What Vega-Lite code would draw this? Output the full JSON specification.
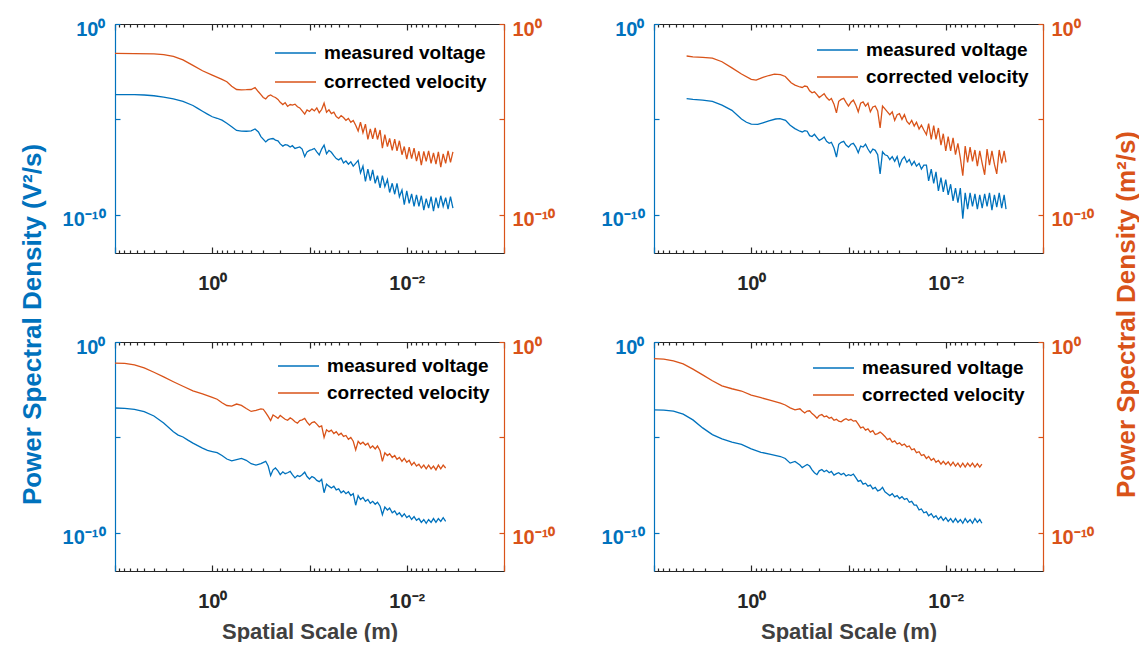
{
"$schema":"https://vega.github.io/schema/vega-lite/v6.json",
"background":"white",
"padding":{"left":19,"top":19,"right":0,"bottom":0},
"config":{"font":"Liberation Sans","view":{"stroke":null},"axis":{"domainWidth":1.2,"tickWidth":1.2,"labelFont":"Liberation Sans","titleFont":"Liberation Sans"},"legend":{"labelFont":"Liberation Sans","labelLimit":0}},
"datasets":{
"tl_v":[{"x":10,"y":2.0e-4},{"x":7.94,"y":2.0e-4},{"x":6.31,"y":2.0e-4},{"x":5.01,"y":1.9e-4},{"x":3.98,"y":1.74e-4},{"x":3.16,"y":1.48e-4},{"x":2.51,"y":1.2e-4},{"x":2.0,"y":8.9e-5},{"x":1.58,"y":5.37e-5},{"x":1.41,"y":3.8e-5},{"x":1.26,"y":2.69e-5},{"x":1.12,"y":1.9e-5},{"x":1.0,"y":1.38e-5},{"x":0.891,"y":1.15e-5},{"x":0.794,"y":9.1e-6},{"x":0.708,"y":6.31e-6},{"x":0.631,"y":4.17e-6},{"x":0.562,"y":2.63e-6},{"x":0.501,"y":2.45e-6},{"x":0.447,"y":2.4e-6},{"x":0.398,"y":2.51e-6},{"x":0.363,"y":3.16e-6},{"x":0.335,"y":2.19e-6},{"x":0.316,"y":1.26e-6},{"x":0.282,"y":6.6e-7},{"x":0.266,"y":8.7e-7},{"x":0.251,"y":9.5e-7},{"x":0.237,"y":1.0e-6},{"x":0.224,"y":8.3e-7},{"x":0.211,"y":7.6e-7},{"x":0.2,"y":5.2e-7},{"x":0.188,"y":4.0e-7},{"x":0.178,"y":4.8e-7},{"x":0.168,"y":4.5e-7},{"x":0.158,"y":3.55e-7},{"x":0.15,"y":4.2e-7},{"x":0.141,"y":3.0e-7},{"x":0.133,"y":3.3e-7},{"x":0.126,"y":3.6e-7},{"x":0.119,"y":2.8e-7},{"x":0.112,"y":1.12e-7},{"x":0.106,"y":2.0e-7},{"x":0.1,"y":2.4e-7},{"x":0.0944,"y":2.6e-7},{"x":0.0891,"y":3.0e-7},{"x":0.0841,"y":2.0e-7},{"x":0.0794,"y":1.38e-7},{"x":0.075,"y":2.8e-7},{"x":0.0708,"y":4.5e-7},{"x":0.0668,"y":1.58e-7},{"x":0.0631,"y":2.4e-7},{"x":0.0596,"y":1.9e-7},{"x":0.0562,"y":1.26e-7},{"x":0.0531,"y":8.9e-8},{"x":0.0501,"y":7.6e-8},{"x":0.0473,"y":9.5e-8},{"x":0.0447,"y":5.2e-8},{"x":0.0422,"y":6.6e-8},{"x":0.0398,"y":4.5e-8},{"x":0.0376,"y":6.0e-8},{"x":0.0355,"y":3.55e-8},{"x":0.0335,"y":5.0e-8},{"x":0.0316,"y":7.1e-8},{"x":0.0299,"y":1.58e-8},{"x":0.0282,"y":3.55e-8},{"x":0.0266,"y":5.6e-9},{"x":0.0251,"y":2.5e-8},{"x":0.0237,"y":6.3e-9},{"x":0.0224,"y":2.24e-8},{"x":0.0211,"y":4.5e-9},{"x":0.02,"y":1.12e-8},{"x":0.0188,"y":2.6e-9},{"x":0.0178,"y":1.12e-8},{"x":0.0168,"y":3.0e-9},{"x":0.0158,"y":7.1e-9},{"x":0.015,"y":1.48e-9},{"x":0.0141,"y":4.5e-9},{"x":0.0133,"y":1.2e-9},{"x":0.0126,"y":4.5e-9},{"x":0.0119,"y":8.9e-10},{"x":0.0112,"y":2.0e-9},{"x":0.0106,"y":3.4e-10},{"x":0.01,"y":1.78e-9},{"x":0.00944,"y":4.0e-10},{"x":0.00891,"y":1.26e-9},{"x":0.00841,"y":2.8e-10},{"x":0.00794,"y":1.12e-9},{"x":0.0075,"y":2.8e-10},{"x":0.00708,"y":1.0e-9},{"x":0.00668,"y":1.78e-10},{"x":0.00631,"y":7.1e-10},{"x":0.00596,"y":2.24e-10},{"x":0.00562,"y":8.9e-10},{"x":0.00531,"y":1.58e-10},{"x":0.00501,"y":7.9e-10},{"x":0.00473,"y":2.24e-10},{"x":0.00447,"y":1.0e-9},{"x":0.00422,"y":2.8e-10},{"x":0.00398,"y":7.9e-10},{"x":0.00376,"y":2.0e-10},{"x":0.00355,"y":8.9e-10},{"x":0.00335,"y":2.24e-10}],
"tl_c":[{"x":10,"y":2.9e-2},{"x":6.31,"y":2.8e-2},{"x":3.98,"y":2.75e-2},{"x":3.16,"y":2.5e-2},{"x":2.51,"y":2.0e-2},{"x":2.0,"y":1.32e-2},{"x":1.58,"y":6.8e-3},{"x":1.26,"y":3.55e-3},{"x":1.0,"y":2.1e-3},{"x":0.794,"y":1.26e-3},{"x":0.708,"y":9.5e-4},{"x":0.631,"y":5.5e-4},{"x":0.562,"y":3.7e-4},{"x":0.501,"y":3.55e-4},{"x":0.447,"y":3.6e-4},{"x":0.398,"y":3.7e-4},{"x":0.363,"y":4.7e-4},{"x":0.335,"y":2.8e-4},{"x":0.316,"y":2.0e-4},{"x":0.299,"y":1.41e-4},{"x":0.282,"y":1.2e-4},{"x":0.266,"y":1.66e-4},{"x":0.251,"y":1.9e-4},{"x":0.237,"y":1.58e-4},{"x":0.224,"y":1.41e-4},{"x":0.211,"y":1.12e-4},{"x":0.2,"y":7.9e-5},{"x":0.188,"y":6.0e-5},{"x":0.178,"y":7.6e-5},{"x":0.168,"y":4.8e-5},{"x":0.158,"y":6.0e-5},{"x":0.15,"y":5.6e-5},{"x":0.141,"y":6.3e-5},{"x":0.133,"y":4.6e-5},{"x":0.126,"y":4.0e-5},{"x":0.119,"y":2.8e-5},{"x":0.112,"y":1.9e-5},{"x":0.106,"y":3.16e-5},{"x":0.1,"y":2.6e-5},{"x":0.0944,"y":3.55e-5},{"x":0.0891,"y":2.8e-5},{"x":0.0841,"y":4.0e-5},{"x":0.0794,"y":2.24e-5},{"x":0.075,"y":3.3e-5},{"x":0.0708,"y":7.1e-5},{"x":0.0668,"y":2.4e-5},{"x":0.0631,"y":3.16e-5},{"x":0.0596,"y":2.0e-5},{"x":0.0562,"y":2.4e-5},{"x":0.0531,"y":1.41e-5},{"x":0.0501,"y":1.12e-5},{"x":0.0473,"y":1.58e-5},{"x":0.0447,"y":1.26e-5},{"x":0.0422,"y":8.9e-6},{"x":0.0398,"y":1.12e-5},{"x":0.0376,"y":7.1e-6},{"x":0.0355,"y":8.9e-6},{"x":0.0335,"y":5.0e-6},{"x":0.0316,"y":2.5e-6},{"x":0.0299,"y":7.1e-6},{"x":0.0282,"y":2.0e-6},{"x":0.0266,"y":5.6e-6},{"x":0.0251,"y":8.9e-7},{"x":0.0237,"y":3.16e-6},{"x":0.0224,"y":9.5e-7},{"x":0.0211,"y":3.55e-6},{"x":0.02,"y":8.9e-7},{"x":0.0188,"y":2.8e-6},{"x":0.0178,"y":3.16e-7},{"x":0.0168,"y":1.58e-6},{"x":0.0158,"y":3.8e-7},{"x":0.015,"y":1.0e-6},{"x":0.0141,"y":2.4e-7},{"x":0.0133,"y":9.3e-7},{"x":0.0126,"y":2.24e-7},{"x":0.0119,"y":7.6e-7},{"x":0.0112,"y":1.41e-7},{"x":0.0106,"y":3.8e-7},{"x":0.01,"y":8.3e-8},{"x":0.00944,"y":3.55e-7},{"x":0.00891,"y":8.9e-8},{"x":0.00841,"y":3.16e-7},{"x":0.00794,"y":6.6e-8},{"x":0.0075,"y":2.14e-7},{"x":0.00708,"y":4.0e-8},{"x":0.00668,"y":2.14e-7},{"x":0.00631,"y":6.3e-8},{"x":0.00596,"y":2.24e-7},{"x":0.00562,"y":5.0e-8},{"x":0.00531,"y":1.78e-7},{"x":0.00501,"y":4.5e-8},{"x":0.00473,"y":2.0e-7},{"x":0.00447,"y":3.16e-8},{"x":0.00422,"y":1.58e-7},{"x":0.00398,"y":5.0e-8},{"x":0.00376,"y":2.24e-7},{"x":0.00355,"y":5.6e-8},{"x":0.00335,"y":2.0e-7}],
"tr_v":[{"x":4.62,"y":1.23e-4},{"x":3.98,"y":1.12e-4},{"x":3.16,"y":1.02e-4},{"x":2.51,"y":8.9e-5},{"x":2.0,"y":5.6e-5},{"x":1.58,"y":3.0e-5},{"x":1.26,"y":1.05e-5},{"x":1.12,"y":7.1e-6},{"x":1.0,"y":5.6e-6},{"x":0.857,"y":5.5e-6},{"x":0.759,"y":6.6e-6},{"x":0.659,"y":8.3e-6},{"x":0.562,"y":1.05e-5},{"x":0.507,"y":1.1e-5},{"x":0.444,"y":8.9e-6},{"x":0.398,"y":5.0e-6},{"x":0.356,"y":3.3e-6},{"x":0.316,"y":2.4e-6},{"x":0.299,"y":2.2e-6},{"x":0.282,"y":2.6e-6},{"x":0.266,"y":2.4e-6},{"x":0.251,"y":1.41e-6},{"x":0.237,"y":1.26e-6},{"x":0.224,"y":1.66e-6},{"x":0.211,"y":1.12e-6},{"x":0.2,"y":7.9e-7},{"x":0.188,"y":9.5e-7},{"x":0.178,"y":1.2e-6},{"x":0.168,"y":7.1e-7},{"x":0.158,"y":5.6e-7},{"x":0.15,"y":6.3e-7},{"x":0.141,"y":3.16e-7},{"x":0.133,"y":1.07e-7},{"x":0.126,"y":5.0e-7},{"x":0.119,"y":6.3e-7},{"x":0.112,"y":7.1e-7},{"x":0.106,"y":4.5e-7},{"x":0.1,"y":3.55e-7},{"x":0.0944,"y":5.0e-7},{"x":0.0891,"y":5.6e-7},{"x":0.0841,"y":3.55e-7},{"x":0.0794,"y":1.78e-7},{"x":0.075,"y":4.0e-7},{"x":0.0708,"y":3.55e-7},{"x":0.0668,"y":5.0e-7},{"x":0.0631,"y":2.8e-7},{"x":0.0596,"y":1.78e-7},{"x":0.0562,"y":2.8e-7},{"x":0.0531,"y":2.4e-7},{"x":0.0501,"y":1.41e-7},{"x":0.0473,"y":1.41e-8},{"x":0.0447,"y":2.0e-7},{"x":0.0422,"y":1.41e-7},{"x":0.0398,"y":1.26e-7},{"x":0.0376,"y":7.9e-8},{"x":0.0355,"y":1.12e-7},{"x":0.0335,"y":6.3e-8},{"x":0.0316,"y":1.12e-7},{"x":0.0299,"y":3.55e-8},{"x":0.0282,"y":7.9e-8},{"x":0.0266,"y":1.12e-7},{"x":0.0251,"y":5.6e-8},{"x":0.0237,"y":7.9e-8},{"x":0.0224,"y":4.0e-8},{"x":0.0211,"y":6.3e-8},{"x":0.02,"y":3.55e-8},{"x":0.0188,"y":5.0e-8},{"x":0.0178,"y":2.5e-8},{"x":0.0168,"y":4.0e-8},{"x":0.0158,"y":4.0e-8},{"x":0.015,"y":6.0e-9},{"x":0.0141,"y":2.5e-8},{"x":0.0133,"y":4.5e-9},{"x":0.0126,"y":1.78e-8},{"x":0.0119,"y":1.78e-9},{"x":0.0112,"y":8.9e-9},{"x":0.0106,"y":1.58e-9},{"x":0.01,"y":7.1e-9},{"x":0.00944,"y":1.12e-9},{"x":0.00891,"y":4.0e-9},{"x":0.00841,"y":5.4e-10},{"x":0.00794,"y":2.5e-9},{"x":0.0075,"y":4.3e-10},{"x":0.00708,"y":2.5e-9},{"x":0.00668,"y":6.3e-11},{"x":0.00631,"y":1.41e-9},{"x":0.00596,"y":2.0e-10},{"x":0.00562,"y":1.41e-9},{"x":0.00531,"y":2.8e-10},{"x":0.00501,"y":1.26e-9},{"x":0.00473,"y":2.0e-10},{"x":0.00447,"y":1.12e-9},{"x":0.00422,"y":2.24e-10},{"x":0.00398,"y":1.26e-9},{"x":0.00376,"y":2.8e-10},{"x":0.00355,"y":1.41e-9},{"x":0.00335,"y":1.78e-10},{"x":0.00316,"y":1.12e-9},{"x":0.00299,"y":2.5e-10},{"x":0.00282,"y":1.41e-9},{"x":0.00266,"y":2.24e-10},{"x":0.00251,"y":1.12e-9},{"x":0.0024,"y":2.0e-10}],
"tr_c":[{"x":4.62,"y":2.1e-2},{"x":3.98,"y":1.9e-2},{"x":3.16,"y":1.78e-2},{"x":2.51,"y":1.62e-2},{"x":2.0,"y":1.05e-2},{"x":1.58,"y":5.0e-3},{"x":1.26,"y":2.4e-3},{"x":1.0,"y":1.26e-3},{"x":0.891,"y":1.15e-3},{"x":0.759,"y":1.58e-3},{"x":0.659,"y":2.0e-3},{"x":0.578,"y":2.34e-3},{"x":0.501,"y":2.24e-3},{"x":0.447,"y":1.78e-3},{"x":0.389,"y":8.3e-4},{"x":0.355,"y":6.3e-4},{"x":0.316,"y":5.0e-4},{"x":0.299,"y":4.7e-4},{"x":0.282,"y":5.6e-4},{"x":0.266,"y":5.2e-4},{"x":0.251,"y":3.16e-4},{"x":0.237,"y":2.5e-4},{"x":0.224,"y":2.8e-4},{"x":0.211,"y":2.0e-4},{"x":0.2,"y":1.41e-4},{"x":0.188,"y":1.78e-4},{"x":0.178,"y":2.24e-4},{"x":0.168,"y":1.41e-4},{"x":0.158,"y":1.02e-4},{"x":0.15,"y":1.26e-4},{"x":0.141,"y":6.3e-5},{"x":0.133,"y":2.2e-5},{"x":0.126,"y":8.9e-5},{"x":0.119,"y":1.12e-4},{"x":0.112,"y":1.26e-4},{"x":0.106,"y":7.9e-5},{"x":0.1,"y":5.0e-5},{"x":0.0944,"y":7.9e-5},{"x":0.0891,"y":1.02e-4},{"x":0.0841,"y":5.6e-5},{"x":0.0794,"y":2.5e-5},{"x":0.075,"y":7.1e-5},{"x":0.0708,"y":8.3e-5},{"x":0.0668,"y":5.0e-5},{"x":0.0631,"y":7.1e-5},{"x":0.0596,"y":2.5e-5},{"x":0.0562,"y":4.5e-5},{"x":0.0531,"y":5.0e-5},{"x":0.0501,"y":2.8e-5},{"x":0.0473,"y":3.55e-6},{"x":0.0447,"y":5.0e-5},{"x":0.0422,"y":3.55e-5},{"x":0.0398,"y":2.5e-5},{"x":0.0376,"y":1.78e-5},{"x":0.0355,"y":2.5e-5},{"x":0.0335,"y":8.9e-6},{"x":0.0316,"y":1.78e-5},{"x":0.0299,"y":2.0e-5},{"x":0.0282,"y":1.0e-5},{"x":0.0266,"y":1.78e-5},{"x":0.0251,"y":7.9e-6},{"x":0.0237,"y":5.6e-6},{"x":0.0224,"y":8.9e-6},{"x":0.0211,"y":4.5e-6},{"x":0.02,"y":7.1e-6},{"x":0.0188,"y":3.16e-6},{"x":0.0178,"y":5.0e-6},{"x":0.0168,"y":2.8e-6},{"x":0.0158,"y":1.58e-6},{"x":0.015,"y":6.0e-6},{"x":0.0141,"y":8.9e-7},{"x":0.0133,"y":4.7e-6},{"x":0.0126,"y":8.9e-7},{"x":0.0119,"y":3.55e-6},{"x":0.0112,"y":4.5e-7},{"x":0.0106,"y":1.78e-6},{"x":0.01,"y":2.24e-7},{"x":0.00944,"y":1.26e-6},{"x":0.00891,"y":2.24e-7},{"x":0.00841,"y":1.07e-6},{"x":0.00794,"y":1.41e-7},{"x":0.0075,"y":5.5e-7},{"x":0.00708,"y":9.5e-8},{"x":0.00668,"y":1.12e-8},{"x":0.00631,"y":4.0e-7},{"x":0.00596,"y":5.6e-8},{"x":0.00562,"y":3.55e-7},{"x":0.00531,"y":6.3e-8},{"x":0.00501,"y":2.5e-7},{"x":0.00473,"y":3.55e-8},{"x":0.00447,"y":2.24e-7},{"x":0.00422,"y":5.0e-8},{"x":0.00398,"y":1.26e-8},{"x":0.00376,"y":2.8e-7},{"x":0.00355,"y":4.0e-8},{"x":0.00335,"y":2.24e-7},{"x":0.00316,"y":4.5e-8},{"x":0.00299,"y":1.41e-8},{"x":0.00282,"y":2.5e-7},{"x":0.00266,"y":5.0e-8},{"x":0.00251,"y":2.24e-7},{"x":0.0024,"y":5.6e-8}],
"bl_v":[{"x":10,"y":3.47e-4},{"x":7.94,"y":3.3e-4},{"x":6.31,"y":2.95e-4},{"x":5.01,"y":2.24e-4},{"x":3.98,"y":1.32e-4},{"x":3.16,"y":5.75e-5},{"x":2.51,"y":2.0e-5},{"x":2.24,"y":1.32e-5},{"x":2.0,"y":1.05e-5},{"x":1.78,"y":7.2e-6},{"x":1.58,"y":5.0e-6},{"x":1.26,"y":2.75e-6},{"x":1.12,"y":2.1e-6},{"x":1.0,"y":1.82e-6},{"x":0.891,"y":1.58e-6},{"x":0.794,"y":1.12e-6},{"x":0.708,"y":7.4e-7},{"x":0.631,"y":5.9e-7},{"x":0.562,"y":6.8e-7},{"x":0.501,"y":7.9e-7},{"x":0.447,"y":6.3e-7},{"x":0.398,"y":4.2e-7},{"x":0.355,"y":3.55e-7},{"x":0.316,"y":4.2e-7},{"x":0.282,"y":5.6e-7},{"x":0.266,"y":3.16e-7},{"x":0.251,"y":1.0e-7},{"x":0.237,"y":2.0e-7},{"x":0.224,"y":2.5e-7},{"x":0.211,"y":1.78e-7},{"x":0.2,"y":1.12e-7},{"x":0.188,"y":1.58e-7},{"x":0.178,"y":1.26e-7},{"x":0.168,"y":1.41e-7},{"x":0.158,"y":1.66e-7},{"x":0.15,"y":1.12e-7},{"x":0.141,"y":7.6e-8},{"x":0.133,"y":1.0e-7},{"x":0.126,"y":8.9e-8},{"x":0.119,"y":1.12e-7},{"x":0.112,"y":1.51e-7},{"x":0.106,"y":8.9e-8},{"x":0.1,"y":6.6e-8},{"x":0.0944,"y":8.9e-8},{"x":0.0891,"y":7.6e-8},{"x":0.0841,"y":5.6e-8},{"x":0.0794,"y":4.8e-8},{"x":0.075,"y":6.3e-8},{"x":0.0708,"y":1.26e-8},{"x":0.0668,"y":3.55e-8},{"x":0.0631,"y":2.8e-8},{"x":0.0596,"y":2.24e-8},{"x":0.0562,"y":2.8e-8},{"x":0.0531,"y":1.78e-8},{"x":0.0501,"y":2.0e-8},{"x":0.0473,"y":1.26e-8},{"x":0.0447,"y":1.58e-8},{"x":0.0422,"y":1.12e-8},{"x":0.0398,"y":1.41e-8},{"x":0.0376,"y":8.9e-9},{"x":0.0355,"y":1.12e-8},{"x":0.0335,"y":2.8e-9},{"x":0.0316,"y":8.9e-9},{"x":0.0299,"y":5.6e-9},{"x":0.0282,"y":7.1e-9},{"x":0.0266,"y":4.5e-9},{"x":0.0251,"y":5.6e-9},{"x":0.0237,"y":3.55e-9},{"x":0.0224,"y":4.5e-9},{"x":0.0211,"y":3.16e-9},{"x":0.02,"y":4.0e-9},{"x":0.0188,"y":2.5e-9},{"x":0.0178,"y":8.9e-10},{"x":0.0168,"y":2.24e-9},{"x":0.0158,"y":1.58e-9},{"x":0.015,"y":2.0e-9},{"x":0.0141,"y":1.12e-9},{"x":0.0133,"y":1.41e-9},{"x":0.0126,"y":8.9e-10},{"x":0.0119,"y":1.12e-9},{"x":0.0112,"y":7.1e-10},{"x":0.0106,"y":1.0e-9},{"x":0.01,"y":6.3e-10},{"x":0.00944,"y":7.9e-10},{"x":0.00891,"y":5.0e-10},{"x":0.00841,"y":7.1e-10},{"x":0.00794,"y":4.5e-10},{"x":0.0075,"y":5.6e-10},{"x":0.00708,"y":3.55e-10},{"x":0.00668,"y":5.0e-10},{"x":0.00631,"y":3.16e-10},{"x":0.00596,"y":5.0e-10},{"x":0.00562,"y":3.55e-10},{"x":0.00531,"y":5.6e-10},{"x":0.00501,"y":3.55e-10},{"x":0.00473,"y":5.6e-10},{"x":0.00447,"y":4.0e-10},{"x":0.00422,"y":6.3e-10},{"x":0.00398,"y":4.0e-10}],
"bl_c":[{"x":10,"y":7.9e-2},{"x":7.94,"y":7.6e-2},{"x":6.31,"y":6.3e-2},{"x":5.01,"y":4.4e-2},{"x":3.98,"y":2.6e-2},{"x":3.16,"y":1.48e-2},{"x":2.51,"y":8.3e-3},{"x":2.0,"y":4.8e-3},{"x":1.58,"y":2.75e-3},{"x":1.26,"y":1.9e-3},{"x":1.0,"y":1.26e-3},{"x":0.891,"y":1.0e-3},{"x":0.794,"y":6.6e-4},{"x":0.708,"y":4.7e-4},{"x":0.631,"y":4.4e-4},{"x":0.562,"y":5.6e-4},{"x":0.501,"y":4.8e-4},{"x":0.447,"y":3.3e-4},{"x":0.398,"y":2.3e-4},{"x":0.355,"y":2.6e-4},{"x":0.316,"y":3.16e-4},{"x":0.299,"y":3.0e-4},{"x":0.282,"y":2.0e-4},{"x":0.266,"y":1.26e-4},{"x":0.251,"y":7.6e-5},{"x":0.237,"y":1.51e-4},{"x":0.224,"y":1.26e-4},{"x":0.211,"y":1.0e-4},{"x":0.2,"y":1.41e-4},{"x":0.188,"y":1.12e-4},{"x":0.178,"y":8.9e-5},{"x":0.168,"y":7.9e-5},{"x":0.158,"y":1.05e-4},{"x":0.15,"y":8.9e-5},{"x":0.141,"y":6.6e-5},{"x":0.133,"y":5.6e-5},{"x":0.126,"y":7.6e-5},{"x":0.119,"y":8.3e-5},{"x":0.112,"y":1.0e-4},{"x":0.106,"y":6.3e-5},{"x":0.1,"y":4.5e-5},{"x":0.0944,"y":6.0e-5},{"x":0.0891,"y":6.6e-5},{"x":0.0841,"y":5.0e-5},{"x":0.0794,"y":3.55e-5},{"x":0.075,"y":4.0e-5},{"x":0.0708,"y":1.0e-5},{"x":0.0668,"y":2.5e-5},{"x":0.0631,"y":2.0e-5},{"x":0.0596,"y":2.4e-5},{"x":0.0562,"y":1.58e-5},{"x":0.0531,"y":2.0e-5},{"x":0.0501,"y":1.32e-5},{"x":0.0473,"y":1.66e-5},{"x":0.0447,"y":1.12e-5},{"x":0.0422,"y":1.26e-5},{"x":0.0398,"y":7.9e-6},{"x":0.0376,"y":1.0e-5},{"x":0.0355,"y":6.3e-6},{"x":0.0335,"y":2.24e-6},{"x":0.0316,"y":6.3e-6},{"x":0.0299,"y":4.5e-6},{"x":0.0282,"y":5.6e-6},{"x":0.0266,"y":4.0e-6},{"x":0.0251,"y":5.0e-6},{"x":0.0237,"y":2.8e-6},{"x":0.0224,"y":3.55e-6},{"x":0.0211,"y":2.5e-6},{"x":0.02,"y":3.55e-6},{"x":0.0188,"y":2.0e-6},{"x":0.0178,"y":5.6e-7},{"x":0.0168,"y":1.58e-6},{"x":0.0158,"y":1.12e-6},{"x":0.015,"y":1.41e-6},{"x":0.0141,"y":8.9e-7},{"x":0.0133,"y":1.12e-6},{"x":0.0126,"y":7.1e-7},{"x":0.0119,"y":8.9e-7},{"x":0.0112,"y":5.6e-7},{"x":0.0106,"y":7.9e-7},{"x":0.01,"y":5.0e-7},{"x":0.00944,"y":6.3e-7},{"x":0.00891,"y":3.55e-7},{"x":0.00841,"y":5.0e-7},{"x":0.00794,"y":3.16e-7},{"x":0.0075,"y":4.0e-7},{"x":0.00708,"y":2.5e-7},{"x":0.00668,"y":3.55e-7},{"x":0.00631,"y":2.24e-7},{"x":0.00596,"y":3.55e-7},{"x":0.00562,"y":2.24e-7},{"x":0.00531,"y":3.16e-7},{"x":0.00501,"y":2.0e-7},{"x":0.00473,"y":3.55e-7},{"x":0.00447,"y":2.24e-7},{"x":0.00422,"y":3.55e-7},{"x":0.00398,"y":2.5e-7}],
"br_v":[{"x":10,"y":2.8e-4},{"x":7.94,"y":2.7e-4},{"x":6.31,"y":2.4e-4},{"x":5.01,"y":1.66e-4},{"x":3.98,"y":8.3e-5},{"x":3.16,"y":3.16e-5},{"x":2.51,"y":1.41e-5},{"x":2.0,"y":8.3e-6},{"x":1.58,"y":5.6e-6},{"x":1.26,"y":4.3e-6},{"x":1.0,"y":2.5e-6},{"x":0.794,"y":1.66e-6},{"x":0.631,"y":1.29e-6},{"x":0.501,"y":1.0e-6},{"x":0.447,"y":7.9e-7},{"x":0.398,"y":4.5e-7},{"x":0.355,"y":5.5e-7},{"x":0.316,"y":3.55e-7},{"x":0.299,"y":2.6e-7},{"x":0.282,"y":3.16e-7},{"x":0.266,"y":3.8e-7},{"x":0.251,"y":3.16e-7},{"x":0.237,"y":2.0e-7},{"x":0.224,"y":1.41e-7},{"x":0.211,"y":1.12e-7},{"x":0.2,"y":1.78e-7},{"x":0.188,"y":2.1e-7},{"x":0.178,"y":1.58e-7},{"x":0.168,"y":1.9e-7},{"x":0.158,"y":1.41e-7},{"x":0.15,"y":1.66e-7},{"x":0.141,"y":1.05e-7},{"x":0.133,"y":1.26e-7},{"x":0.126,"y":1.41e-7},{"x":0.119,"y":1.12e-7},{"x":0.112,"y":1.32e-7},{"x":0.106,"y":9.5e-8},{"x":0.1,"y":1.12e-7},{"x":0.0944,"y":1.0e-7},{"x":0.0891,"y":1.2e-7},{"x":0.0841,"y":7.9e-8},{"x":0.0794,"y":5.0e-8},{"x":0.075,"y":5.6e-8},{"x":0.0708,"y":3.55e-8},{"x":0.0668,"y":4.0e-8},{"x":0.0631,"y":2.8e-8},{"x":0.0596,"y":3.16e-8},{"x":0.0562,"y":2.0e-8},{"x":0.0531,"y":2.4e-8},{"x":0.0501,"y":1.58e-8},{"x":0.0473,"y":1.78e-8},{"x":0.0447,"y":2.4e-8},{"x":0.0422,"y":1.41e-8},{"x":0.0398,"y":1.12e-8},{"x":0.0376,"y":8.9e-9},{"x":0.0355,"y":1.12e-8},{"x":0.0335,"y":7.6e-9},{"x":0.0316,"y":8.9e-9},{"x":0.0299,"y":6.3e-9},{"x":0.0282,"y":7.9e-9},{"x":0.0266,"y":5.6e-9},{"x":0.0251,"y":6.3e-9},{"x":0.0237,"y":4.0e-9},{"x":0.0224,"y":4.5e-9},{"x":0.0211,"y":2.8e-9},{"x":0.02,"y":2.8e-9},{"x":0.0188,"y":1.58e-9},{"x":0.0178,"y":1.78e-9},{"x":0.0168,"y":1.12e-9},{"x":0.0158,"y":1.26e-9},{"x":0.015,"y":7.9e-10},{"x":0.0141,"y":1.0e-9},{"x":0.0133,"y":6.3e-10},{"x":0.0126,"y":7.9e-10},{"x":0.0119,"y":5.0e-10},{"x":0.0112,"y":7.1e-10},{"x":0.0106,"y":4.5e-10},{"x":0.01,"y":6.3e-10},{"x":0.00944,"y":4.0e-10},{"x":0.00891,"y":5.6e-10},{"x":0.00841,"y":3.55e-10},{"x":0.00794,"y":5.6e-10},{"x":0.0075,"y":3.55e-10},{"x":0.00708,"y":5.0e-10},{"x":0.00668,"y":3.16e-10},{"x":0.00631,"y":5.6e-10},{"x":0.00596,"y":3.55e-10},{"x":0.00562,"y":5.0e-10},{"x":0.00531,"y":3.16e-10},{"x":0.00501,"y":5.6e-10},{"x":0.00473,"y":3.55e-10},{"x":0.00447,"y":5.0e-10},{"x":0.00425,"y":3.16e-10}],
"br_c":[{"x":10,"y":0.135},{"x":7.94,"y":0.126},{"x":6.31,"y":0.102},{"x":5.01,"y":7.1e-2},{"x":3.98,"y":3.8e-2},{"x":3.16,"y":1.9e-2},{"x":2.51,"y":9.3e-3},{"x":2.0,"y":5.0e-3},{"x":1.58,"y":3.55e-3},{"x":1.26,"y":2.7e-3},{"x":1.0,"y":1.66e-3},{"x":0.794,"y":1.2e-3},{"x":0.631,"y":8.7e-4},{"x":0.501,"y":6.2e-4},{"x":0.447,"y":5.0e-4},{"x":0.398,"y":3.55e-4},{"x":0.355,"y":2.8e-4},{"x":0.316,"y":3.16e-4},{"x":0.299,"y":2.4e-4},{"x":0.282,"y":1.9e-4},{"x":0.266,"y":2.4e-4},{"x":0.251,"y":2.5e-4},{"x":0.237,"y":1.78e-4},{"x":0.224,"y":1.41e-4},{"x":0.211,"y":1.02e-4},{"x":0.2,"y":1.41e-4},{"x":0.188,"y":1.58e-4},{"x":0.178,"y":1.2e-4},{"x":0.168,"y":1.32e-4},{"x":0.158,"y":1.0e-4},{"x":0.15,"y":1.12e-4},{"x":0.141,"y":7.9e-5},{"x":0.133,"y":8.9e-5},{"x":0.126,"y":7.1e-5},{"x":0.119,"y":6.6e-5},{"x":0.112,"y":8.3e-5},{"x":0.106,"y":9.5e-5},{"x":0.1,"y":7.9e-5},{"x":0.0944,"y":8.9e-5},{"x":0.0891,"y":7.1e-5},{"x":0.0841,"y":7.6e-5},{"x":0.0794,"y":5.0e-5},{"x":0.075,"y":3.16e-5},{"x":0.0708,"y":3.55e-5},{"x":0.0668,"y":2.4e-5},{"x":0.0631,"y":2.8e-5},{"x":0.0596,"y":1.9e-5},{"x":0.0562,"y":2.24e-5},{"x":0.0531,"y":1.41e-5},{"x":0.0501,"y":1.58e-5},{"x":0.0473,"y":1.9e-5},{"x":0.0447,"y":1.51e-5},{"x":0.0422,"y":1.12e-5},{"x":0.0398,"y":7.6e-6},{"x":0.0376,"y":8.9e-6},{"x":0.0355,"y":5.6e-6},{"x":0.0335,"y":6.6e-6},{"x":0.0316,"y":4.5e-6},{"x":0.0299,"y":5.2e-6},{"x":0.0282,"y":3.8e-6},{"x":0.0266,"y":4.5e-6},{"x":0.0251,"y":3.16e-6},{"x":0.0237,"y":3.55e-6},{"x":0.0224,"y":2.24e-6},{"x":0.0211,"y":2.5e-6},{"x":0.02,"y":1.58e-6},{"x":0.0188,"y":1.78e-6},{"x":0.0178,"y":1.12e-6},{"x":0.0168,"y":1.26e-6},{"x":0.0158,"y":7.9e-7},{"x":0.015,"y":1.0e-6},{"x":0.0141,"y":6.3e-7},{"x":0.0133,"y":7.9e-7},{"x":0.0126,"y":5.0e-7},{"x":0.0119,"y":6.3e-7},{"x":0.0112,"y":4.0e-7},{"x":0.0106,"y":5.6e-7},{"x":0.01,"y":3.8e-7},{"x":0.00944,"y":5.2e-7},{"x":0.00891,"y":3.3e-7},{"x":0.00841,"y":5.0e-7},{"x":0.00794,"y":3.16e-7},{"x":0.0075,"y":4.5e-7},{"x":0.00708,"y":2.8e-7},{"x":0.00668,"y":4.5e-7},{"x":0.00631,"y":2.8e-7},{"x":0.00596,"y":4.5e-7},{"x":0.00562,"y":3.0e-7},{"x":0.00531,"y":4.5e-7},{"x":0.00501,"y":2.8e-7},{"x":0.00473,"y":4.2e-7},{"x":0.00447,"y":2.8e-7},{"x":0.00425,"y":4.0e-7}]
},
"columns":2,
"spacing":{"row":89,"column":150},
"bounds":"flush",
"resolve":{"scale":{"x":"independent","y":"independent","color":"independent"},"legend":{"color":"independent"}},
"concat":[
{"width":389,"height":229,
 "layer":[
  {"data":{"name":"tl_v"},"mark":{"type":"line","strokeWidth":1.3},
   "encoding":{
    "x":{"field":"x","type":"quantitative","scale":{"type":"log","domain":[0.001,10],"reverse":true,"nice":false},"axis":{"orient":"bottom","values":[10,9,8,7,6,5,4,3,2,1,0.9,0.8,0.7,0.6,0.5,0.4,0.3,0.2,0.1,0.09,0.08,0.07,0.06,0.05,0.04,0.03,0.02,0.01,0.009,0.008,0.007,0.006,0.005,0.004,0.003,0.002,0.001],"labelExpr":"datum.value == 1 ? '10⁰' : (abs(datum.value - 0.01) < 1e-9 ? '10⁻²' : '')","tickSize":{"condition":{"test":"abs(log(datum.value)/LN10 - round(log(datum.value)/LN10)) < 1e-6","value":-6},"value":-3},"labelPadding":26,"labelOverlap":false,"labelFlush":false,"domainColor":"#262626","tickColor":"#262626","labelColor":"#262626","labelFontSize":20,"labelFontWeight":"bold","grid":false,"title":null}},
    "y":{"field":"y","type":"quantitative","scale":{"type":"log","domain":[1e-12,1],"nice":false},"axis":{"orient":"left","values":[1,1e-5,1e-10],"labelExpr":"datum.value > 0.5 ? '10⁰' : (datum.value < 1e-8 ? '10⁻¹⁰' : '')","tickSize":-5,"labelPadding":15,"labelOffset":5,"labelOverlap":false,"labelFlush":false,"domainColor":"#0072BD","tickColor":"#0072BD","labelColor":"#0072BD","labelFontSize":20,"labelFontWeight":"bold","grid":false,"title":"Power Spectral Density (V²/s)","titleColor":"#0072BD","titleFontSize":26,"titleFontWeight":"bold","titleAngle":270,"titleX":-70,"titleY":300,"titleAlign":"center","titleBaseline":"bottom"}},
    "color":{"datum":"measured voltage","type":"nominal","scale":{"domain":["measured voltage","corrected velocity"],"range":["#0072BD","#D95319"]},"legend":{"orient":"none","legendX":159,"legendY":19,"title":null,"padding":0,"symbolType":"stroke","symbolSize":1681,"symbolStrokeWidth":1.5,"labelFontSize":19,"labelFontWeight":"bold","labelColor":"#000000","labelOffset":7,"labelLimit":0,"rowPadding":9,"clipHeight":20}}
   }},
  {"data":{"name":"tl_c"},"mark":{"type":"line","strokeWidth":1.3},
   "encoding":{
    "x":{"field":"x","type":"quantitative","scale":{"type":"log","domain":[0.001,10],"reverse":true,"nice":false},"axis":{"orient":"top","values":[10,9,8,7,6,5,4,3,2,1,0.9,0.8,0.7,0.6,0.5,0.4,0.3,0.2,0.1,0.09,0.08,0.07,0.06,0.05,0.04,0.03,0.02,0.01,0.009,0.008,0.007,0.006,0.005,0.004,0.003,0.002,0.001],"labels":false,"tickSize":{"condition":{"test":"abs(log(datum.value)/LN10 - round(log(datum.value)/LN10)) < 1e-6","value":-6},"value":-3},"domainColor":"#262626","tickColor":"#262626","grid":false,"title":null}},
    "y":{"field":"y","type":"quantitative","scale":{"type":"log","domain":[1e-12,1],"nice":false},"axis":{"orient":"right","values":[1,1e-5,1e-10],"labelExpr":"datum.value > 0.5 ? '10⁰' : (datum.value < 1e-8 ? '10⁻¹⁰' : '')","tickSize":-5,"labelPadding":13,"labelOffset":5,"labelOverlap":false,"labelFlush":false,"domainColor":"#D95319","tickColor":"#D95319","labelColor":"#D95319","labelFontSize":20,"labelFontWeight":"bold","grid":false,"title":null}},
    "color":{"datum":"corrected velocity","type":"nominal"}
   }}
 ],
 "resolve":{"scale":{"x":"independent","y":"independent"}}
},
{"width":389,"height":229,
 "layer":[
  {"data":{"name":"tr_v"},"mark":{"type":"line","strokeWidth":1.3},
   "encoding":{
    "x":{"field":"x","type":"quantitative","scale":{"type":"log","domain":[0.001,10],"reverse":true,"nice":false},"axis":{"orient":"bottom","values":[10,9,8,7,6,5,4,3,2,1,0.9,0.8,0.7,0.6,0.5,0.4,0.3,0.2,0.1,0.09,0.08,0.07,0.06,0.05,0.04,0.03,0.02,0.01,0.009,0.008,0.007,0.006,0.005,0.004,0.003,0.002,0.001],"labelExpr":"datum.value == 1 ? '10⁰' : (abs(datum.value - 0.01) < 1e-9 ? '10⁻²' : '')","tickSize":{"condition":{"test":"abs(log(datum.value)/LN10 - round(log(datum.value)/LN10)) < 1e-6","value":-6},"value":-3},"labelPadding":26,"labelOverlap":false,"labelFlush":false,"domainColor":"#262626","tickColor":"#262626","labelColor":"#262626","labelFontSize":20,"labelFontWeight":"bold","grid":false,"title":null}},
    "y":{"field":"y","type":"quantitative","scale":{"type":"log","domain":[1e-12,1],"nice":false},"axis":{"orient":"left","values":[1,1e-5,1e-10],"labelExpr":"datum.value > 0.5 ? '10⁰' : (datum.value < 1e-8 ? '10⁻¹⁰' : '')","tickSize":-5,"labelPadding":15,"labelOffset":5,"labelOverlap":false,"labelFlush":false,"domainColor":"#0072BD","tickColor":"#0072BD","labelColor":"#0072BD","labelFontSize":20,"labelFontWeight":"bold","grid":false,"title":null}},
    "color":{"datum":"measured voltage","type":"nominal","scale":{"domain":["measured voltage","corrected velocity"],"range":["#0072BD","#D95319"]},"legend":{"orient":"none","legendX":162,"legendY":16,"title":null,"padding":0,"symbolType":"stroke","symbolSize":1681,"symbolStrokeWidth":1.5,"labelFontSize":19,"labelFontWeight":"bold","labelColor":"#000000","labelOffset":7,"labelLimit":0,"rowPadding":7,"clipHeight":20}}
   }},
  {"data":{"name":"tr_c"},"mark":{"type":"line","strokeWidth":1.3},
   "encoding":{
    "x":{"field":"x","type":"quantitative","scale":{"type":"log","domain":[0.001,10],"reverse":true,"nice":false},"axis":{"orient":"top","values":[10,9,8,7,6,5,4,3,2,1,0.9,0.8,0.7,0.6,0.5,0.4,0.3,0.2,0.1,0.09,0.08,0.07,0.06,0.05,0.04,0.03,0.02,0.01,0.009,0.008,0.007,0.006,0.005,0.004,0.003,0.002,0.001],"labels":false,"tickSize":{"condition":{"test":"abs(log(datum.value)/LN10 - round(log(datum.value)/LN10)) < 1e-6","value":-6},"value":-3},"domainColor":"#262626","tickColor":"#262626","grid":false,"title":null}},
    "y":{"field":"y","type":"quantitative","scale":{"type":"log","domain":[1e-12,1],"nice":false},"axis":{"orient":"right","values":[1,1e-5,1e-10],"labelExpr":"datum.value > 0.5 ? '10⁰' : (datum.value < 1e-8 ? '10⁻¹⁰' : '')","tickSize":-5,"labelPadding":13,"labelOffset":5,"labelOverlap":false,"labelFlush":false,"domainColor":"#D95319","tickColor":"#D95319","labelColor":"#D95319","labelFontSize":20,"labelFontWeight":"bold","grid":false,"title":"Power Spectral Density (m²/s)","titleColor":"#D95319","titleFontSize":26,"titleFontWeight":"bold","titleAngle":270,"titleX":96,"titleY":290,"titleAlign":"center","titleBaseline":"bottom"}},
    "color":{"datum":"corrected velocity","type":"nominal"}
   }}
 ],
 "resolve":{"scale":{"x":"independent","y":"independent"}}
},
{"width":389,"height":229,
 "layer":[
  {"data":{"name":"bl_v"},"mark":{"type":"line","strokeWidth":1.3},
   "encoding":{
    "x":{"field":"x","type":"quantitative","scale":{"type":"log","domain":[0.001,10],"reverse":true,"nice":false},"axis":{"orient":"bottom","values":[10,9,8,7,6,5,4,3,2,1,0.9,0.8,0.7,0.6,0.5,0.4,0.3,0.2,0.1,0.09,0.08,0.07,0.06,0.05,0.04,0.03,0.02,0.01,0.009,0.008,0.007,0.006,0.005,0.004,0.003,0.002,0.001],"labelExpr":"datum.value == 1 ? '10⁰' : (abs(datum.value - 0.01) < 1e-9 ? '10⁻²' : '')","tickSize":{"condition":{"test":"abs(log(datum.value)/LN10 - round(log(datum.value)/LN10)) < 1e-6","value":-6},"value":-3},"labelPadding":26,"labelOverlap":false,"labelFlush":false,"domainColor":"#262626","tickColor":"#262626","labelColor":"#262626","labelFontSize":20,"labelFontWeight":"bold","grid":false,"title":"Spatial Scale (m)","titleColor":"#404040","titleFontSize":22,"titleFontWeight":"bold","titleY":67,"titleBaseline":"alphabetic"}},
    "y":{"field":"y","type":"quantitative","scale":{"type":"log","domain":[1e-12,1],"nice":false},"axis":{"orient":"left","values":[1,1e-5,1e-10],"labelExpr":"datum.value > 0.5 ? '10⁰' : (datum.value < 1e-8 ? '10⁻¹⁰' : '')","tickSize":-5,"labelPadding":15,"labelOffset":5,"labelOverlap":false,"labelFlush":false,"domainColor":"#0072BD","tickColor":"#0072BD","labelColor":"#0072BD","labelFontSize":20,"labelFontWeight":"bold","grid":false,"title":null}},
    "color":{"datum":"measured voltage","type":"nominal","scale":{"domain":["measured voltage","corrected velocity"],"range":["#0072BD","#D95319"]},"legend":{"orient":"none","legendX":162,"legendY":14,"title":null,"padding":0,"symbolType":"stroke","symbolSize":1681,"symbolStrokeWidth":1.5,"labelFontSize":19,"labelFontWeight":"bold","labelColor":"#000000","labelOffset":7,"labelLimit":0,"rowPadding":7,"clipHeight":20}}
   }},
  {"data":{"name":"bl_c"},"mark":{"type":"line","strokeWidth":1.3},
   "encoding":{
    "x":{"field":"x","type":"quantitative","scale":{"type":"log","domain":[0.001,10],"reverse":true,"nice":false},"axis":{"orient":"top","values":[10,9,8,7,6,5,4,3,2,1,0.9,0.8,0.7,0.6,0.5,0.4,0.3,0.2,0.1,0.09,0.08,0.07,0.06,0.05,0.04,0.03,0.02,0.01,0.009,0.008,0.007,0.006,0.005,0.004,0.003,0.002,0.001],"labels":false,"tickSize":{"condition":{"test":"abs(log(datum.value)/LN10 - round(log(datum.value)/LN10)) < 1e-6","value":-6},"value":-3},"domainColor":"#262626","tickColor":"#262626","grid":false,"title":null}},
    "y":{"field":"y","type":"quantitative","scale":{"type":"log","domain":[1e-12,1],"nice":false},"axis":{"orient":"right","values":[1,1e-5,1e-10],"labelExpr":"datum.value > 0.5 ? '10⁰' : (datum.value < 1e-8 ? '10⁻¹⁰' : '')","tickSize":-5,"labelPadding":13,"labelOffset":5,"labelOverlap":false,"labelFlush":false,"domainColor":"#D95319","tickColor":"#D95319","labelColor":"#D95319","labelFontSize":20,"labelFontWeight":"bold","grid":false,"title":null}},
    "color":{"datum":"corrected velocity","type":"nominal"}
   }}
 ],
 "resolve":{"scale":{"x":"independent","y":"independent"}}
},
{"width":389,"height":229,
 "layer":[
  {"data":{"name":"br_v"},"mark":{"type":"line","strokeWidth":1.3},
   "encoding":{
    "x":{"field":"x","type":"quantitative","scale":{"type":"log","domain":[0.001,10],"reverse":true,"nice":false},"axis":{"orient":"bottom","values":[10,9,8,7,6,5,4,3,2,1,0.9,0.8,0.7,0.6,0.5,0.4,0.3,0.2,0.1,0.09,0.08,0.07,0.06,0.05,0.04,0.03,0.02,0.01,0.009,0.008,0.007,0.006,0.005,0.004,0.003,0.002,0.001],"labelExpr":"datum.value == 1 ? '10⁰' : (abs(datum.value - 0.01) < 1e-9 ? '10⁻²' : '')","tickSize":{"condition":{"test":"abs(log(datum.value)/LN10 - round(log(datum.value)/LN10)) < 1e-6","value":-6},"value":-3},"labelPadding":26,"labelOverlap":false,"labelFlush":false,"domainColor":"#262626","tickColor":"#262626","labelColor":"#262626","labelFontSize":20,"labelFontWeight":"bold","grid":false,"title":"Spatial Scale (m)","titleColor":"#404040","titleFontSize":22,"titleFontWeight":"bold","titleY":67,"titleBaseline":"alphabetic"}},
    "y":{"field":"y","type":"quantitative","scale":{"type":"log","domain":[1e-12,1],"nice":false},"axis":{"orient":"left","values":[1,1e-5,1e-10],"labelExpr":"datum.value > 0.5 ? '10⁰' : (datum.value < 1e-8 ? '10⁻¹⁰' : '')","tickSize":-5,"labelPadding":15,"labelOffset":5,"labelOverlap":false,"labelFlush":false,"domainColor":"#0072BD","tickColor":"#0072BD","labelColor":"#0072BD","labelFontSize":20,"labelFontWeight":"bold","grid":false,"title":null}},
    "color":{"datum":"measured voltage","type":"nominal","scale":{"domain":["measured voltage","corrected velocity"],"range":["#0072BD","#D95319"]},"legend":{"orient":"none","legendX":158,"legendY":16,"title":null,"padding":0,"symbolType":"stroke","symbolSize":1681,"symbolStrokeWidth":1.5,"labelFontSize":19,"labelFontWeight":"bold","labelColor":"#000000","labelOffset":7,"labelLimit":0,"rowPadding":7,"clipHeight":20}}
   }},
  {"data":{"name":"br_c"},"mark":{"type":"line","strokeWidth":1.3},
   "encoding":{
    "x":{"field":"x","type":"quantitative","scale":{"type":"log","domain":[0.001,10],"reverse":true,"nice":false},"axis":{"orient":"top","values":[10,9,8,7,6,5,4,3,2,1,0.9,0.8,0.7,0.6,0.5,0.4,0.3,0.2,0.1,0.09,0.08,0.07,0.06,0.05,0.04,0.03,0.02,0.01,0.009,0.008,0.007,0.006,0.005,0.004,0.003,0.002,0.001],"labels":false,"tickSize":{"condition":{"test":"abs(log(datum.value)/LN10 - round(log(datum.value)/LN10)) < 1e-6","value":-6},"value":-3},"domainColor":"#262626","tickColor":"#262626","grid":false,"title":null}},
    "y":{"field":"y","type":"quantitative","scale":{"type":"log","domain":[1e-12,1],"nice":false},"axis":{"orient":"right","values":[1,1e-5,1e-10],"labelExpr":"datum.value > 0.5 ? '10⁰' : (datum.value < 1e-8 ? '10⁻¹⁰' : '')","tickSize":-5,"labelPadding":13,"labelOffset":5,"labelOverlap":false,"labelFlush":false,"domainColor":"#D95319","tickColor":"#D95319","labelColor":"#D95319","labelFontSize":20,"labelFontWeight":"bold","grid":false,"title":null}},
    "color":{"datum":"corrected velocity","type":"nominal"}
   }}
 ],
 "resolve":{"scale":{"x":"independent","y":"independent"}}
}
]
}
